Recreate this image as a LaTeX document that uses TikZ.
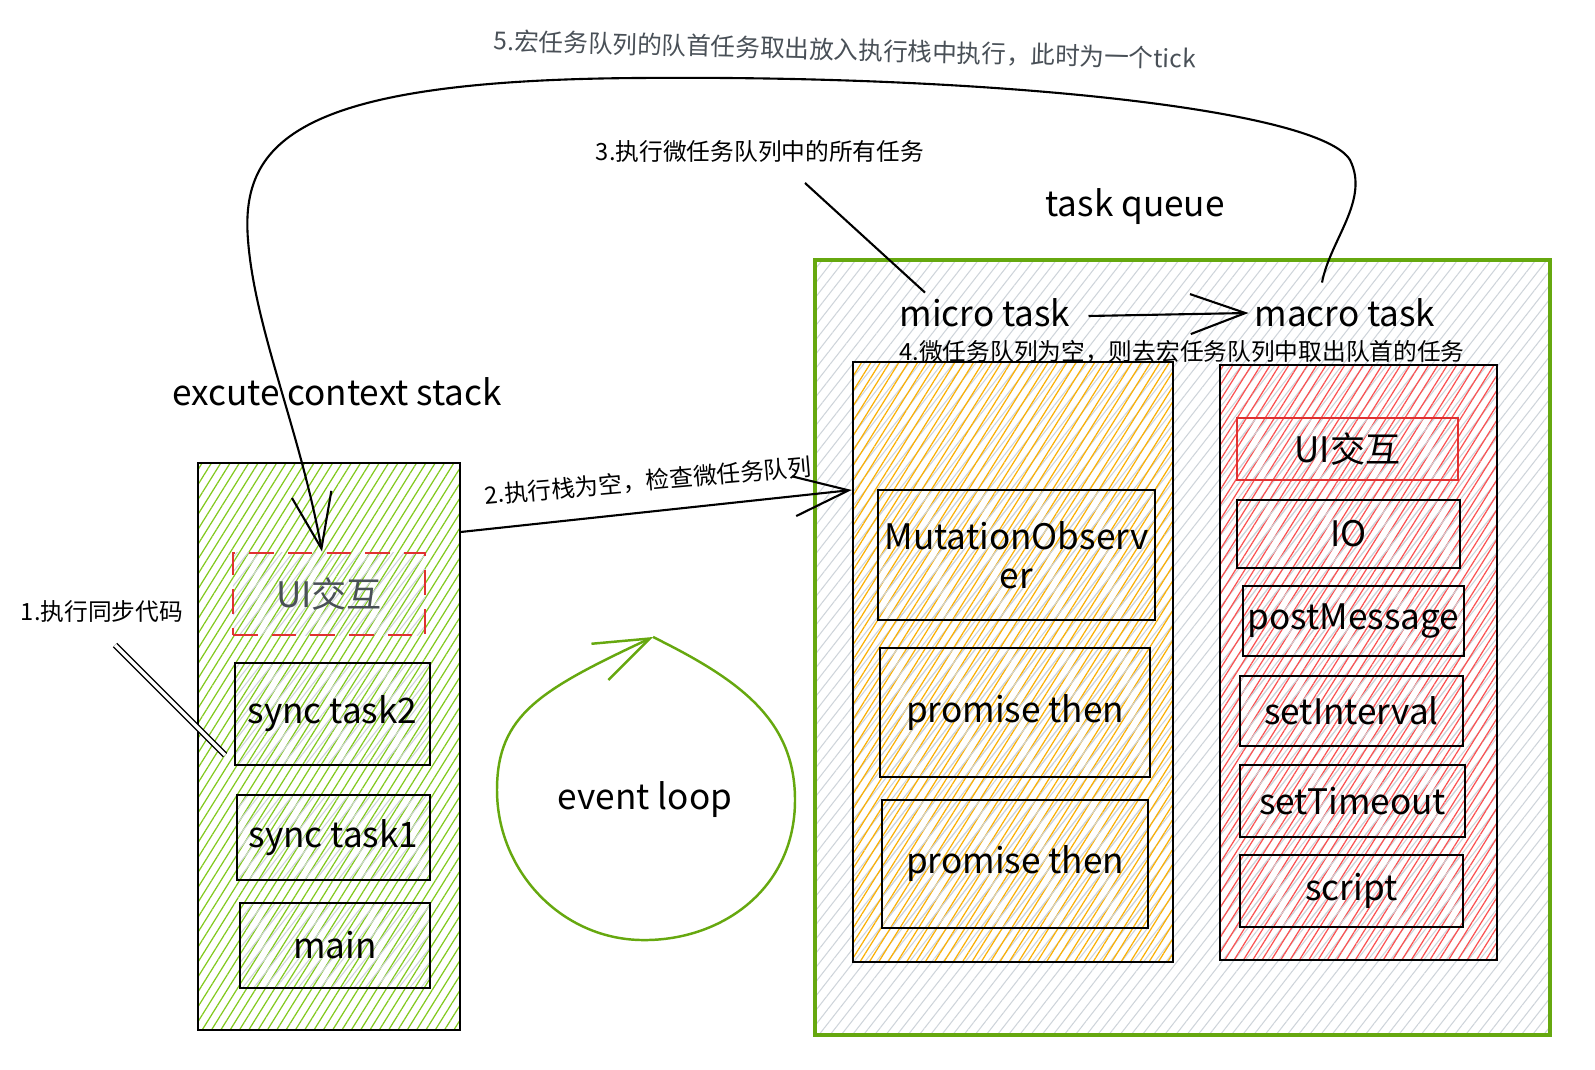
\documentclass[tikz,border=0pt]{standalone}
\usepackage{fontspec}
\setmainfont{Noto Sans CJK SC}
\usetikzlibrary{arrows.meta, patterns.meta, fit, positioning}

\definecolor{gruen}{HTML}{82C91E}
\definecolor{dunkelgruen}{HTML}{66A80F}
\definecolor{orange}{HTML}{FAB005}
\definecolor{rot}{HTML}{FA5252}
\definecolor{dunkelrot}{HTML}{E03131}
\definecolor{grau}{HTML}{CED4DA}
\definecolor{schrift}{HTML}{495057}

\begin{document}
\begin{tikzpicture}
		[
		x=0.02cm, y=-0.02cm, font=\fontsize{20}{22}\selectfont, >={Straight Barb[length=1.1cm, width=0.8cm]},
		%Voreinstellungen
		box/.style={draw, line width=1.4pt, inner sep=0pt},
		hell/.style={pattern={Lines[angle=52, distance=5pt, line width=0.6pt]}, pattern color=grau},
		farbe/.style={pattern={Lines[angle=58, distance=4.5pt, line width=0.7pt]}, pattern color=#1},
		hinweis/.style={font=\fontsize{13.5}{15}\selectfont},
		linie/.style={line width=1.2pt}
		]
		
		%Rahmen
		\useasboundingbox (0,0) rectangle (1595,1070);
		
		%Titel oben
		\node[hinweis, font=\fontsize{14}{16}\selectfont, text=schrift, rotate=-1.5] (tick) at (845,50) {5.宏任务队列的队首任务取出放入执行栈中执行，此时为一个tick};
		
		%Stapel
		\node[box, farbe=gruen, fit={(198,463) (460,1030)}] (stack) {};
		\node (stacklabel) at (337,392) {excute context stack};
		\node[box, hell, draw=dunkelrot, dashed, dash pattern=on 14pt off 8pt, line width=1.6pt, fit={(233,553) (425,635)}, label={[text=schrift]center:UI交互}] (ui) {};
		\node[box, hell, fit={(235,663) (430,765)}, label=center:sync task2] (st2) {};
		\node[box, hell, fit={(237,795) (430,880)}, label=center:sync task1] (st1) {};
		\node[box, hell, fit={(240,903) (430,988)}, label=center:main] (main) {};
		
		%Schritt 1
		\node[hinweis] (s1) at (102,612) {1.执行同步代码};
		\coordinate (s1a) at (115,645);
		\coordinate (s1b) at (225,755);
		\draw[double, double distance=2pt, line width=0.8pt] (s1a) -- (s1b);
		
		%Aufgabenwarteschlange
		\node[box, draw=dunkelgruen, line width=1.8pt, hell, fit={(815,260) (1550,1035)}] (queue) {};
		\node (queuelabel) at (1135,207) {task queue};
		\node (micro) at (985,313) {micro task};
		\node (macro) at (1345,313) {macro task};
		\draw[linie, ->] (micro.east) ++(12,3) coordinate (ma) (ma) -- (macro.west);
		\node[hinweis] (s4) at (1182,352) {4.微任务队列为空，则去宏任务队列中取出队首的任务};
		
		%Mikro
		\node[box, farbe=orange, fit={(853,362) (1173,962)}] (mikroq) {};
		\node[box, hell, fit={(878,490) (1155,620)}, label={[align=center]center:MutationObserv\\er}] (mo) {};
		\node[box, hell, fit={(880,648) (1150,777)}, label=center:promise then] (pt1) {};
		\node[box, hell, fit={(882,800) (1148,928)}, label=center:promise then] (pt2) {};
		
		%Makro
		\node[box, farbe=rot, fit={(1220,365) (1497,960)}] (makroq) {};
		\node[box, hell, draw=dunkelrot, line width=1.6pt, fit={(1237,418) (1458,480)}, label=center:UI交互] (ui2) {};
		\node[box, hell, fit={(1237,500) (1460,568)}, label=center:IO] (io) {};
		\node[box, hell, fit={(1243,586) (1464,656)}, label=center:postMessage] (pm) {};
		\node[box, hell, fit={(1240,676) (1463,746)}, label=center:setInterval] (si) {};
		\node[box, hell, fit={(1240,765) (1465,837)}, label=center:setTimeout] (stt) {};
		\node[box, hell, fit={(1240,855) (1463,927)}, label=center:script] (scr) {};
		
		%Schritt 2
		\node[hinweis, rotate=5] (s2) at (648,481) {2.执行栈为空，检查微任务队列};
		\draw[linie, ->] (stack.east |- 0,532) -- (mikroq.west |- 0,490);
		
		%Schritt 3
		\node[hinweis] (s3) at (760,152) {3.执行微任务队列中的所有任务};
		\coordinate (s3a) at (805,183);
		\draw[linie] (s3a) -- ([xshift=-1.2cm]micro.north);
		
		%Schritt 5
		\draw[linie, ->] ([shift={(-23,-10)}]macro.north) coordinate (m5) .. controls (1330,240) and (1370,200) .. (1350,160)
			.. controls (1320,110) and (1000,75) .. (640,78)
			.. controls (300,80) and (240,140) .. (248,240)
			.. controls (255,330) and (300,430) .. (ui.north -| 322,0);
		
		%Ereignisschleife
		\node (loop) at (645,800) {event loop};
		\draw[dunkelgruen, line width=1.4pt, ->] (loop) ++(8,-163) coordinate (l0)
			(l0) .. controls (740,680) and (795,720) .. (795,800)
			.. controls (795,890) and (720,942) .. (640,940)
			.. controls (560,938) and (497,870) .. (497,790)
			.. controls (497,715) and (540,690) .. (l0);
	\end{tikzpicture}
\end{document}
